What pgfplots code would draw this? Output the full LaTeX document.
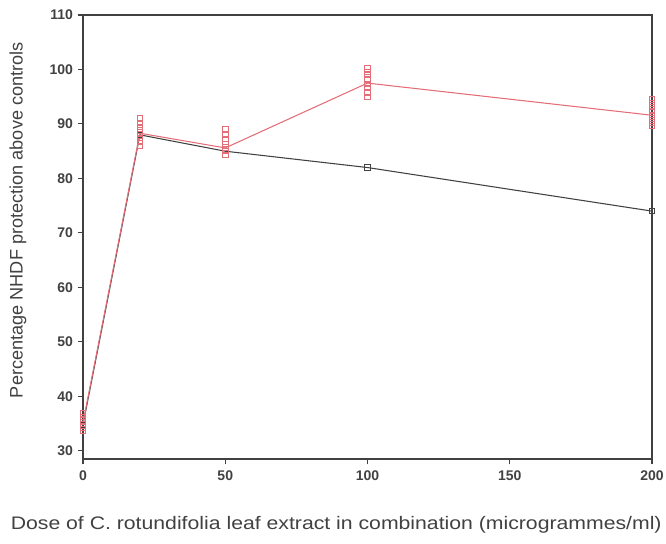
\documentclass[border=0pt]{standalone}
\usepackage{fontspec}
\setmainfont{Liberation Sans}
\usepackage{pgfplots}
\pgfplotsset{compat=1.18}
\definecolor{rd}{RGB}{228,110,120}
\definecolor{ax}{RGB}{65,65,65}
\begin{document}
\begin{tikzpicture}
\begin{axis}[
  at={(62.25pt,63pt)}, anchor=south west,
  scale only axis,
  width=426.75pt, height=333pt,
  xmin=0, xmax=200, ymin=28.5, ymax=110,
  xtick={0,50,100,150,200},
  ytick={30,40,50,60,70,80,90,100,110},
  axis line style={ax, line width=0.9pt},
  tick style={ax, line width=0.8pt},
  tick align=outside,
  xtick pos=bottom, ytick pos=left,
  major tick length=4pt,
  /pgf/number format/assume math mode=true,
  ticklabel style={font=\bfseries\fontsize{10.5}{12}\selectfont, text=ax},
  xticklabel style={yshift=-1pt},
  xlabel={\scalebox{1.17}[1]{Dose of C. rotundifolia leaf extract in combination (microgrammes/ml)}},
  ylabel={Percentage NHDF protection above controls},
  label style={font=\fontsize{13.6}{15}\selectfont, text=ax},
  xlabel style={at={(axis description cs:0.445,-0.1486)}, anchor=center},
  ylabel style={at={(axis description cs:-0.1142,0.538)}, anchor=center},
  clip=false,
]
\addplot[ax, line width=0.8pt, mark=square, mark size=2pt, mark options={solid, line width=0.6pt}]
coordinates {(0,34.8) (20,88) (50,85) (100,82) (200,74)};
\addplot[rd, line width=0.8pt]
coordinates {(0,35.2) (20,88.3) (50,85.6) (100,97.5) (200,91.6)};
\addplot[rd, only marks, mark=square, mark size=2pt, mark options={line width=0.6pt}]
coordinates {
(0,33.6) (0,34.3) (0,35) (0,35.6) (0,36.2) (0,36.9)
(20,86) (20,86.8) (20,87.5) (20,88.2) (20,88.8) (20,89.5) (20,90.2) (20,91)
(50,84.3) (50,85) (50,85.7) (50,86.4) (50,87.2) (50,88.1) (50,89)
(100,95) (100,95.8) (100,96.6) (100,97.4) (100,98.2) (100,99) (100,99.6) (100,100.2)
(200,89.6) (200,90.3) (200,91) (200,91.7) (200,92.4) (200,93.1) (200,93.8) (200,94.5)
};
\end{axis}
\pgfresetboundingbox
\path (0,0) rectangle (499.5pt,407.25pt);
\end{tikzpicture}
\end{document}
